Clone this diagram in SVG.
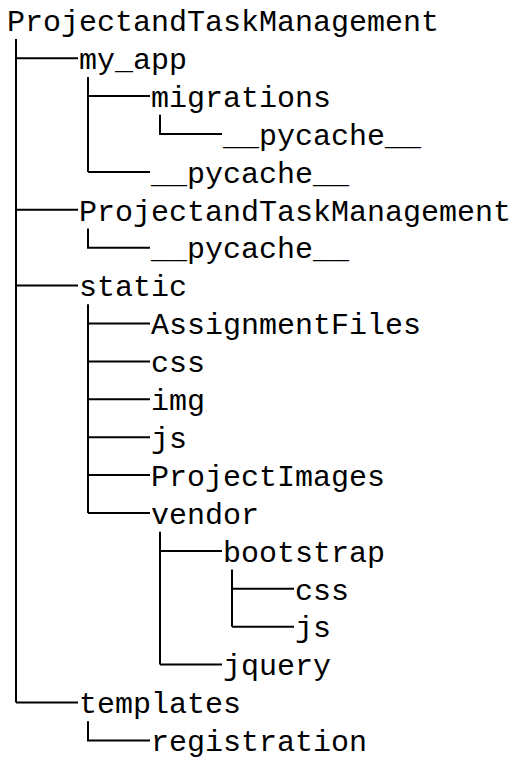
<svg xmlns="http://www.w3.org/2000/svg" width="521" height="765" viewBox="0 0 521 765">
<style>
text{font-family:"Liberation Mono","DejaVu Sans Mono",monospace;font-size:30px;fill:#000}
.c{fill:none;stroke:#000;stroke-width:2}
</style>
<rect width="521" height="765" fill="#fff"/>
<g id="connectors" class="c">
<path d="M16,39V702.5M16,58.2H78M16,209.8H78M16,285.6H78M16,702.5H78"/>
<path d="M88,76.9V171.9M88,96.1H150M88,171.9H150"/>
<path d="M160,114.8V134H222"/>
<path d="M88,228.5V247.7H150"/>
<path d="M88,304.3V513M88,323.5H150M88,361.4H150M88,399.3H150M88,437.2H150M88,475.1H150M88,513H150"/>
<path d="M160,531.7V664.6M160,550.9H222M160,664.6H222"/>
<path d="M232,569.6V626.7M232,588.8H294M232,626.7H294"/>
<path d="M88,721.2V740.4H150"/>
</g>
<g id="n0"><text x="7" y="31">ProjectandTaskManagement</text></g>
<g id="n1"><text x="79" y="68.9">my_app</text></g>
<g id="n2"><text x="151" y="106.8">migrations</text></g>
<g id="n3"><text x="223" y="144.7">__pycache__</text></g>
<g id="n4"><text x="151" y="182.6">__pycache__</text></g>
<g id="n5"><text x="79" y="220.5">ProjectandTaskManagement</text></g>
<g id="n6"><text x="151" y="258.4">__pycache__</text></g>
<g id="n7"><text x="79" y="296.3">static</text></g>
<g id="n8"><text x="151" y="334.2">AssignmentFiles</text></g>
<g id="n9"><text x="151" y="372.1">css</text></g>
<g id="n10"><text x="151" y="410">img</text></g>
<g id="n11"><text x="151" y="447.9">js</text></g>
<g id="n12"><text x="151" y="485.8">ProjectImages</text></g>
<g id="n13"><text x="151" y="523.7">vendor</text></g>
<g id="n14"><text x="223" y="561.6">bootstrap</text></g>
<g id="n15"><text x="295" y="599.5">css</text></g>
<g id="n16"><text x="295" y="637.4">js</text></g>
<g id="n17"><text x="223" y="675.3">jquery</text></g>
<g id="n18"><text x="79" y="713.2">templates</text></g>
<g id="n19"><text x="151" y="751.1">registration</text></g>
</svg>
